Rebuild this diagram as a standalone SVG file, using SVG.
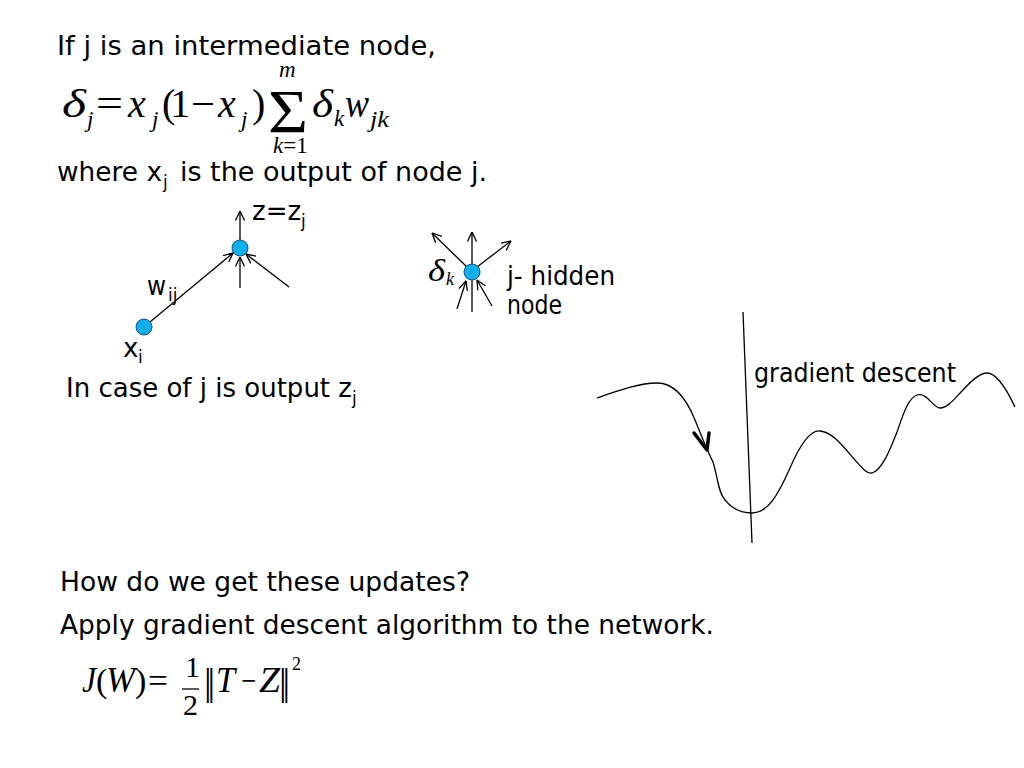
<svg xmlns="http://www.w3.org/2000/svg" width="1024" height="768" viewBox="0 0 1024 768">
<defs>
<style>
.t{font-family:"DejaVu Sans","Liberation Sans",sans-serif;font-size:26px;fill:#000}
.s{font-family:"DejaVu Sans","Liberation Sans",sans-serif;font-size:17px;fill:#000}
.m{font-family:"Liberation Serif","Times New Roman",serif;fill:#000}
.i{font-style:italic}
.ln{stroke:#000;stroke-width:1.3;fill:none}
.node{fill:#0FAEEE;stroke:#1F4E79;stroke-width:1}
</style>
<marker id="ah" viewBox="0 0 10 10" refX="9.5" refY="5" markerWidth="10" markerHeight="10" markerUnits="userSpaceOnUse" orient="auto">
<path d="M0,0.5 L9.5,5 L0,9.5" fill="none" stroke="#000" stroke-width="1.3"/>
</marker>
</defs>
<rect width="1024" height="768" fill="#fff"/>

<g id="text-top">
<text class="t" x="57" y="55" textLength="379" lengthAdjust="spacingAndGlyphs">If j is an intermediate node,</text>
<text class="t" x="57" y="181" textLength="105" lengthAdjust="spacingAndGlyphs">where x</text>
<text class="s" x="163" y="188">j</text>
<text class="t" x="180" y="181" textLength="307" lengthAdjust="spacingAndGlyphs">is the output of node j.</text>
</g>

<g id="formula-delta" class="m">
<text class="i" x="62" y="117" font-size="40" textLength="24" lengthAdjust="spacingAndGlyphs">δ</text>
<text class="i" x="87" y="127" font-size="23">j</text>
<text x="96" y="117" font-size="40" textLength="27" lengthAdjust="spacingAndGlyphs">=</text>
<text class="i" x="128" y="117" font-size="40">x</text>
<text class="i" x="152" y="127" font-size="23">j</text>
<text x="162" y="117" font-size="40" letter-spacing="-5">(1</text>
<text x="191" y="117" font-size="40" textLength="24" lengthAdjust="spacingAndGlyphs">−</text>
<text class="i" x="218" y="117" font-size="40">x</text>
<text class="i" x="241" y="127" font-size="23">j</text>
<text x="252" y="117" font-size="40">)</text>
<text x="268" y="132" font-size="62" textLength="40" lengthAdjust="spacingAndGlyphs">Σ</text>
<text class="i" x="279" y="77" font-size="23">m</text>
<text x="273" y="153" font-size="23"><tspan class="i">k</tspan>=1</text>
<text class="i" x="312" y="117" font-size="40" textLength="21" lengthAdjust="spacingAndGlyphs">δ</text>
<text class="i" x="334" y="126" font-size="23">k</text>
<text class="i" x="345" y="117" font-size="40" textLength="24" lengthAdjust="spacingAndGlyphs">w</text>
<text class="i" x="370" y="127" font-size="23" textLength="19" lengthAdjust="spacingAndGlyphs">jk</text>
</g>

<g id="connectors">
<line class="ln" x1="150" y1="322" x2="233" y2="253" marker-end="url(#ah)"/>
<line class="ln" x1="240" y1="240" x2="240" y2="211" marker-end="url(#ah)"/>
<line class="ln" x1="240" y1="288" x2="240" y2="257" marker-end="url(#ah)"/>
<line class="ln" x1="289" y1="287" x2="246" y2="254" marker-end="url(#ah)"/>
<line class="ln" x1="467" y1="267" x2="432" y2="233" marker-end="url(#ah)"/>
<line class="ln" x1="472" y1="265" x2="472" y2="232" marker-end="url(#ah)"/>
<line class="ln" x1="477" y1="267" x2="511" y2="241" marker-end="url(#ah)"/>
<line class="ln" x1="457" y1="309" x2="466" y2="281" marker-end="url(#ah)"/>
<line class="ln" x1="472" y1="312" x2="472" y2="280"/>
<line class="ln" x1="492" y1="306" x2="477" y2="280" marker-end="url(#ah)"/>
</g>

<g id="node-xi">
<circle class="node" cx="144" cy="327" r="8"/>
<text class="t" x="123" y="357" font-size="24">x</text>
<text class="s" x="138" y="363">i</text>
</g>
<g id="node-j-output">
<circle class="node" cx="240" cy="248" r="8"/>
<text class="t" x="252" y="220" font-size="21">z=z<tspan font-size="17" dy="7">j</tspan></text>
</g>
<g id="label-wij">
<text class="t" x="147" y="295" font-size="24" textLength="19" lengthAdjust="spacingAndGlyphs">w</text>
<text class="s" x="168" y="301">ij</text>
</g>
<g id="caption-output">
<text class="t" x="66" y="397" font-size="24.5">In case of j is output z<tspan font-size="17" dy="7">j</tspan></text>
</g>
<g id="node-j-hidden">
<circle class="node" cx="472" cy="272" r="8"/>
<text class="m i" x="428" y="281" font-size="32" textLength="17" lengthAdjust="spacingAndGlyphs">δ</text>
<text class="m i" x="446" y="285" font-size="18">k</text>
<text class="t" x="507" y="285" textLength="108" lengthAdjust="spacingAndGlyphs" font-size="24">j- hidden</text>
<text class="t" x="507" y="314" textLength="55" lengthAdjust="spacingAndGlyphs" font-size="24">node</text>
</g>

<g id="gradient-plot">
<line class="ln" x1="743" y1="312" x2="752" y2="543"/>
<path class="ln" d="M597,398 C620,390 640,383 657,383 C672,383 685,395 695,420 C702,437 707,450 713,462 C718,478 718,492 725,500 C733,510 742,513 752,513 C768,513 778,495 790,468 C800,445 810,430 820,431 C832,432 842,445 855,460 C862,468 867,474 872,473 C882,470 890,450 897,432 C903,415 908,398 917,395 C927,392 932,407 940,408 C948,408 955,398 963,390 C972,380 980,373 987,373 C997,373 1007,390 1015,407"/>
<polyline points="694,433 707,450 709,433" fill="none" stroke="#000" stroke-width="3.5" stroke-linecap="round" stroke-linejoin="round"/>
<text class="t" x="754" y="382" textLength="202" lengthAdjust="spacingAndGlyphs" font-size="24">gradient descent</text>
</g>

<g id="text-bottom">
<text class="t" x="60" y="591" textLength="410" lengthAdjust="spacingAndGlyphs">How do we get these updates?</text>
<text class="t" x="60" y="634" textLength="654" lengthAdjust="spacingAndGlyphs">Apply gradient descent algorithm to the network.</text>
</g>

<g id="formula-J" class="m">
<text class="i" x="82" y="692" font-size="36" textLength="14" lengthAdjust="spacingAndGlyphs">J</text>
<text x="96" y="692" font-size="34">(</text>
<text class="i" x="106" y="692" font-size="36" textLength="29" lengthAdjust="spacingAndGlyphs">W</text>
<text x="135" y="692" font-size="34">)</text>
<text x="148" y="692" font-size="34" textLength="20" lengthAdjust="spacingAndGlyphs">=</text>
<text x="185" y="677" font-size="30">1</text>
<line x1="182" y1="689" x2="199" y2="689" stroke="#000" stroke-width="1.3"/>
<text x="183" y="715" font-size="30">2</text>
<text x="204" y="695" font-size="38" letter-spacing="-4">||</text>
<text class="i" x="216" y="692" font-size="36" textLength="19" lengthAdjust="spacingAndGlyphs">T</text>
<text x="241" y="692" font-size="34" textLength="15" lengthAdjust="spacingAndGlyphs">−</text>
<text class="i" x="259" y="692" font-size="36" textLength="21" lengthAdjust="spacingAndGlyphs">Z</text>
<text x="279" y="695" font-size="38" letter-spacing="-4">||</text>
<text x="292" y="670" font-size="18">2</text>
</g>
</svg>
